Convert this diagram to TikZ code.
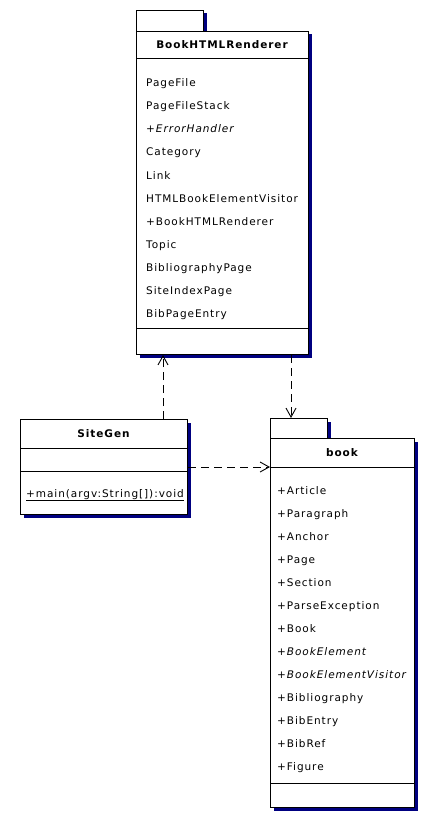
\documentclass[tikz,border=0pt]{standalone}
\usepackage{fontspec}
\setmainfont{DejaVu Sans}[LetterSpace=9]
\usetikzlibrary{arrows.meta,shadows}
\definecolor{shadowblue}{RGB}{0,0,128}
\begin{document}
\begin{tikzpicture}[x=1pt,y=-1pt,
  font=\fontsize{10.5pt}{12pt}\selectfont,
  umlbox/.style={draw=black,fill=white,line width=1pt,inner sep=0pt,anchor=north west,
    drop shadow={shadow xshift=3pt,shadow yshift=-3pt,fill=shadowblue,opacity=1}},
  sepline/.style={draw=black,line width=1pt},
  title/.style={font=\fontsize{10.5pt}{12pt}\selectfont\bfseries,inner sep=0pt,anchor=base},
  item/.style={anchor=base west,inner sep=0pt},
  dep/.style={draw=black,line width=0.9pt,dash pattern=on 8pt off 5pt,
    -{Straight Barb[length=9pt,width=10pt,line width=0.9pt]}}]
\useasboundingbox (0,0) rectangle (427,813);

% ---- BookHTMLRenderer package
\node[umlbox,minimum width=67pt,minimum height=21pt] (bhrtab) at (136,10) {};
\node[umlbox,minimum width=172pt,minimum height=323pt] (bhr) at (136,31) {};
\draw[sepline] (136,59) -- (308,59);
\draw[sepline] (136,328) -- (308,328);
\node[title] (bhrtitle) at (222,48.5) {BookHTMLRenderer};
\foreach \t [count=\i from 0] in {PageFile,PageFileStack,{\itshape +ErrorHandler},Category,Link,HTMLBookElementVisitor,+BookHTMLRenderer,Topic,BibliographyPage,SiteIndexPage,BibPageEntry}
  \node[item] (bhr\i) at (146,87+23*\i) {\t};

% ---- SiteGen class
\node[umlbox,minimum width=167pt,minimum height=95pt] (sg) at (20,419) {};
\draw[sepline] (20,448) -- (187,448);
\draw[sepline] (20,471) -- (187,471);
\node[title] (sgtitle) at (103.5,437.5) {SiteGen};
\node[item] (sgop) at (26,497) {\underline{+main(argv:String[]):void}};

% ---- book package
\node[umlbox,minimum width=57pt,minimum height=20pt] (booktab) at (270,418) {};
\node[umlbox,minimum width=144pt,minimum height=369pt] (book) at (270,438) {};
\draw[sepline] (270,467) -- (414,467);
\draw[sepline] (270,783) -- (414,783);
\node[title] (booktitle) at (342,456) {book};
\foreach \t [count=\i from 0] in {+Article,+Paragraph,+Anchor,+Page,+Section,+ParseException,+Book,{\itshape +BookElement},{\itshape +BookElementVisitor},+Bibliography,+BibEntry,+BibRef,+Figure}
  \node[item] (book\i) at (277,494+23*\i) {\t};

% ---- dependencies
\coordinate (xa) at (163,0);
\coordinate (xb) at (291,0);
\draw[dep] (sg.north -| xa) -- (bhr.south -| xa);
\draw[dep] (bhr.south -| xb) -- (booktab.north -| xb);
\draw[dep] (sg.east |- 0,467) -- (book.west |- 0,467);
\end{tikzpicture}
\end{document}
